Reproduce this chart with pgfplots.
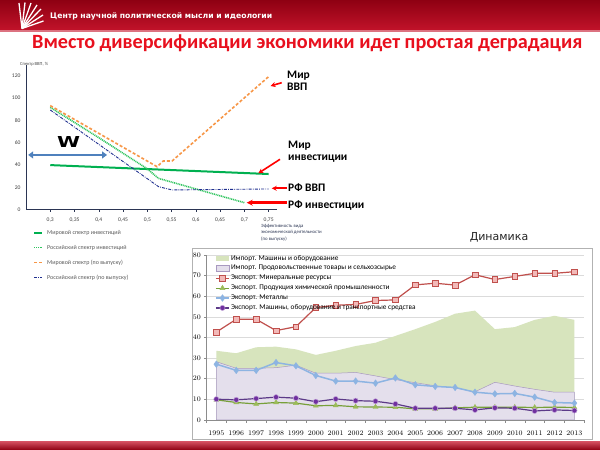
\documentclass[border=0pt]{standalone}
\usepackage{pgfplots}
\pgfplotsset{compat=1.18}
\usepackage{fontspec}
\setmainfont{Carlito}
\newfontfamily\dejavu{DejaVu Sans}
\usetikzlibrary{arrows.meta}
\definecolor{hdrtop}{HTML}{8E0012}
\definecolor{hdrbot}{HTML}{C4142B}
\definecolor{titlered}{HTML}{E8101E}
\definecolor{mgreen}{HTML}{00B050}
\definecolor{dgreen}{HTML}{2FC45E}
\definecolor{morange}{HTML}{F79646}
\definecolor{mnavy}{HTML}{1F2F8F}
\definecolor{wblue}{HTML}{4F81BD}
\definecolor{axnavy}{HTML}{2B3553}
\definecolor{areagreen}{HTML}{D7E4BD}
\definecolor{arealav}{HTML}{E4DFEC}
\definecolor{lavline}{HTML}{A899C0}
\definecolor{minred}{HTML}{C0504D}
\definecolor{minfill}{HTML}{F2B9B8}
\definecolor{chemgreen}{HTML}{9BBB59}
\definecolor{chemdark}{HTML}{77A03A}
\definecolor{metblue}{HTML}{8DB4E2}
\definecolor{machpurp}{HTML}{7030A0}
\definecolor{machline}{HTML}{5C3A88}
\definecolor{machedge}{HTML}{C3A6D8}
\pgfplotsset{
  myarea/.style={legend image code/.code={\path[##1] (0pt,-2.6pt) rectangle (13pt,2.6pt);}},
  orangeleg/.style={legend image code/.code={\draw[morange, line width=1.6pt] (0pt,0pt) -- (8pt,0pt);}},
}
\begin{document}
\begin{tikzpicture}[x=1pt,y=1pt]
\useasboundingbox (0,0) rectangle (600,450);
\fill[white] (0,0) rectangle (600,450);
% header
\shade[top color=hdrtop, bottom color=hdrbot] (0,418.3) rectangle (600,450);
\fill[hdrbot!60!white] (0,418.3) rectangle (600,419.6);
% logo
\foreach \ex/\ey in {19/447, 25/447.5, 31/447, 37/445, 41/441, 43/435, 43.5/429}{
  \draw[white, line width=1.3pt] (22,421.5) -- (\ex,\ey);
}
\node[anchor=west, text=white, inner sep=0pt] at (50,434) {\resizebox{222pt}{!}{\dejavu\bfseries Центр научной политической мысли и идеологии}};
% footer
\shade[top color=hdrbot!75!white, bottom color=hdrtop] (0,0) rectangle (600,8.5);
% title
\node[anchor=base west, text=titlered, inner sep=0pt] at (32,401.8) {\resizebox{550pt}{!}{\bfseries Вместо диверсификации экономики идет простая деградация}};

% ---------------- left chart ----------------
\node[anchor=west, inner sep=0pt, text=black!70, font=\fontsize{4.6}{5}\selectfont] at (20,386) {Спектр ВВП, \%};
\begin{axis}[
  at={(26pt,240.4pt)}, anchor=south west, scale only axis,
  width=250.9pt, height=145pt,
  xmin=0.25, xmax=0.767, ymin=0, ymax=130,
  axis x line*=bottom, axis y line*=left,
  axis line style={axnavy, line width=0.6pt},
  xtick={0.3,0.35,0.4,0.45,0.5,0.55,0.6,0.65,0.7,0.75},
  xticklabels={{0,3},{0,35},{0,4},{0,45},{0,5},{0,55},{0,6},{0,65},{0,7},{0,75}},
  ytick={0,20,40,60,80,100,120},
  /pgf/number format/assume math mode=true,
  x tick style={axnavy, line width=0.4pt}, major tick length=2pt, tick align=outside,
  y tick style={draw=none},
  tick label style={font=\fontsize{5.6}{6.5}\selectfont, text=black!75},
  xticklabel style={yshift=-2.5pt},
  clip=false,
  legend style={at={(axis description cs:0.028,-0.134)}, anchor=north west, draw=none, fill=none,
     inner sep=0pt, font=\fontsize{6}{7}\selectfont, text=black!65, row sep=8.2pt, column sep=3.4pt,
     nodes={inner sep=0.6pt, text height=4.3pt, text depth=1.3pt}},
  legend cell align=left,
  legend image code/.code={\draw[#1] (0pt,0pt) -- (8pt,0pt);},
]
\addplot[mgreen, line width=2pt] coordinates {(0.3,39.9) (0.75,31.9)};
\addlegendentry{Мировой спектр инвестиций}
\addplot[dgreen, line width=1.6pt, dash pattern=on 1pt off 0.8pt] coordinates {(0.3,91.7) (0.4,64.5) (0.5,36.5) (0.523,28) (0.7,6.2)};
\addlegendentry{Российский спектр инвестиций}
\addplot[morange, line width=1.6pt, dash pattern=on 3pt off 2pt, orangeleg] coordinates {(0.3,93.2) (0.52,38.5) (0.533,43.6) (0.551,43.6) (0.75,119.2)};
\addlegendentry{Мировой спектр (по выпуску)}
\addplot[mnavy, line width=0.9pt, dash pattern=on 3pt off 1.2pt on 0.8pt off 1.2pt] coordinates {(0.3,89.3) (0.523,20.6) (0.551,17.6) (0.75,18.5)};
\addlegendentry{Российский спектр (по выпуску)}
\draw[wblue, line width=2.6pt, {Triangle[length=5pt,width=7pt]}-{Triangle[length=5pt,width=7pt]}] (axis cs:0.2545,49) -- (axis cs:0.417,49);
\node[inner sep=0pt] at (axis cs:0.3377,60.8) {\resizebox{23pt}{11pt}{\dejavu\bfseries W}};
\end{axis}
% right labels
\begin{scope}[every node/.style={anchor=west, inner sep=0pt, font=\fontsize{11.5}{12}\selectfont\bfseries}]
\node at (287,374.5) {Мир};
\node at (287,363) {ВВП};
\node at (288,304) {Мир};
\node at (288,291) {инвестиции};
\node at (288,262) {РФ ВВП};
\node at (288,244.5) {РФ инвестиции};
\end{scope}
\draw[red, line width=1.6pt, -{Stealth[length=5pt,width=5pt]}] (281.7,367.3) -- (270.5,364);
\draw[red, line width=1.6pt, -{Stealth[length=5pt,width=5pt]}] (280,290.7) -- (258.3,276.7);
\draw[red, line width=1.6pt, -{Stealth[length=5pt,width=5pt]}] (286.7,261.7) -- (271.7,261.7);
\draw[red, line width=2.4pt, -{Stealth[length=6pt,width=6pt]}] (286.7,247.3) -- (246.7,247.3);
\begin{scope}[every node/.style={anchor=west, inner sep=0pt, text=axnavy, font=\fontsize{4.8}{5}\selectfont}]
\node at (261,224) {Эффективность вида};
\node at (261,217.5) {экономической деятельности};
\node at (261,211) {(по выпуску)};
\end{scope}

% ---------------- right chart ----------------
\node[font=\dejavu\fontsize{11}{12}\selectfont, text=black!85] at (499,213) {Динамика};
\draw[black!30, line width=0.8pt, fill=white] (192,11) rectangle (592,202);
\begin{axis}[
  at={(206.4pt,30.2pt)}, anchor=south west, scale only axis,
  width=378pt, height=164.8pt,
  xmin=1994.5, xmax=2013.5, ymin=0, ymax=80,
  axis x line*=bottom, axis y line*=left,
  axis line style={black!45, line width=0.5pt},
  xtick={1995,1996,1997,1998,1999,2000,2001,2002,2003,2004,2005,2006,2007,2008,2009,2010,2011,2012,2013},
  /pgf/number format/set thousands separator={},
  x tick style={draw=none},
  extra x ticks={1994.5,1995.5,1996.5,1997.5,1998.5,1999.5,2000.5,2001.5,2002.5,2003.5,2004.5,2005.5,2006.5,2007.5,2008.5,2009.5,2010.5,2011.5,2012.5,2013.5},
  extra x tick labels={},
  extra x tick style={x tick style={draw=black!45, line width=0.4pt}, major tick length=3pt, tick align=outside, grid=none},
  ytick={0,10,20,30,40,50,60,70,80},
  y tick style={draw=black!45, line width=0.4pt}, major tick length=2pt, tick align=outside,
  ymajorgrids, grid style={black!14, line width=0.4pt},
  tick label style={font=\fontsize{7}{8}\selectfont},
  xticklabel style={yshift=-6pt},
  legend style={at={(axis description cs:0.0228,1.003)}, anchor=north west, draw=none, fill=none,
     inner sep=0pt, font=\fontsize{7.3}{8}\selectfont, row sep=2.5pt, column sep=0.8pt,
     nodes={inner sep=0.5pt, text height=4.8pt, text depth=1.6pt}},
  legend cell align=left,
  legend image code/.code={\draw[#1,mark repeat=2,mark phase=2] plot coordinates {(0pt,0pt) (6.5pt,0pt) (13pt,0pt)};},
]
\addplot[fill=areagreen, draw=none, myarea] coordinates {
(1995,33.5) (1996,32.3) (1997,35.2) (1998,35.5) (1999,34.2) (2000,31.5) (2001,33.5) (2002,35.8) (2003,37.4) (2004,40.7)
(2005,44) (2006,47.5) (2007,51.5) (2008,53) (2009,44) (2010,45) (2011,48.5) (2012,50.5) (2013,48.5)} \closedcycle;
\addlegendentry{Импорт. Машины и оборудование}
\addplot[fill=arealav, draw=lavline, line width=0.5pt, myarea] coordinates {
(1995,28.2) (1996,25) (1997,25) (1998,25.3) (1999,26.5) (2000,22.6) (2001,22.6) (2002,23) (2003,21.3) (2004,19.5)
(2005,18) (2006,16.5) (2007,15.5) (2008,13.6) (2009,18.2) (2010,16.4) (2011,14.8) (2012,13.4) (2013,13.4)} \closedcycle;
\addlegendentry{Импорт. Продовольственные товары и сельхозсырье}
\addplot[minred, line width=1.2pt, mark=square*, mark size=2.8pt, mark options={solid, fill=minfill, draw=minred, line width=0.5pt}] coordinates {
(1995,42.6) (1996,48.8) (1997,48.8) (1998,43.3) (1999,45.2) (2000,54.5) (2001,55.6) (2002,56) (2003,57.9) (2004,58.2)
(2005,65.5) (2006,66.3) (2007,65.4) (2008,70.4) (2009,68.1) (2010,69.6) (2011,71.1) (2012,71.1) (2013,71.9)};
\addlegendentry{Экспорт. Минеральные ресурсы}
\addplot[chemdark, line width=1.2pt, mark=triangle*, mark size=2.9pt, mark options={solid, fill=chemgreen, draw=chemgreen, line width=0.4pt}] coordinates {
(1995,9.7) (1996,8.4) (1997,7.7) (1998,8.4) (1999,8.1) (2000,6.8) (2001,7) (2002,6.3) (2003,6.2) (2004,6.1)
(2005,5.3) (2006,5.3) (2007,5.8) (2008,6.1) (2009,6.1) (2010,6.1) (2011,6) (2012,6.1) (2013,6)};
\addlegendentry{Экспорт. Продукция химической промышленности}
\addplot[metblue, line width=1.5pt, mark=diamond*, mark size=3.3pt, mark options={solid, fill=metblue, draw=metblue, line width=0.4pt}] coordinates {
(1995,27) (1996,24) (1997,24) (1998,27.8) (1999,26.2) (2000,21.5) (2001,18.8) (2002,18.8) (2003,17.8) (2004,20.3)
(2005,17) (2006,16.2) (2007,15.7) (2008,13.4) (2009,12.6) (2010,12.8) (2011,11) (2012,8.4) (2013,8.1)};
\addlegendentry{Экспорт. Металлы}
\addplot[machline, line width=1.2pt, mark=*, mark size=2.6pt, mark options={solid, fill=machpurp, draw=machedge, line width=0.5pt}] coordinates {
(1995,10) (1996,9.7) (1997,10.3) (1998,11) (1999,10.5) (2000,8.8) (2001,10.1) (2002,9.3) (2003,9) (2004,7.7)
(2005,5.6) (2006,5.6) (2007,5.6) (2008,4.8) (2009,5.8) (2010,5.6) (2011,4.3) (2012,4.8) (2013,4.5)};
\addlegendentry{Экспорт. Машины, оборудование и транспортные средства}
\end{axis}
\end{tikzpicture}
\end{document}
